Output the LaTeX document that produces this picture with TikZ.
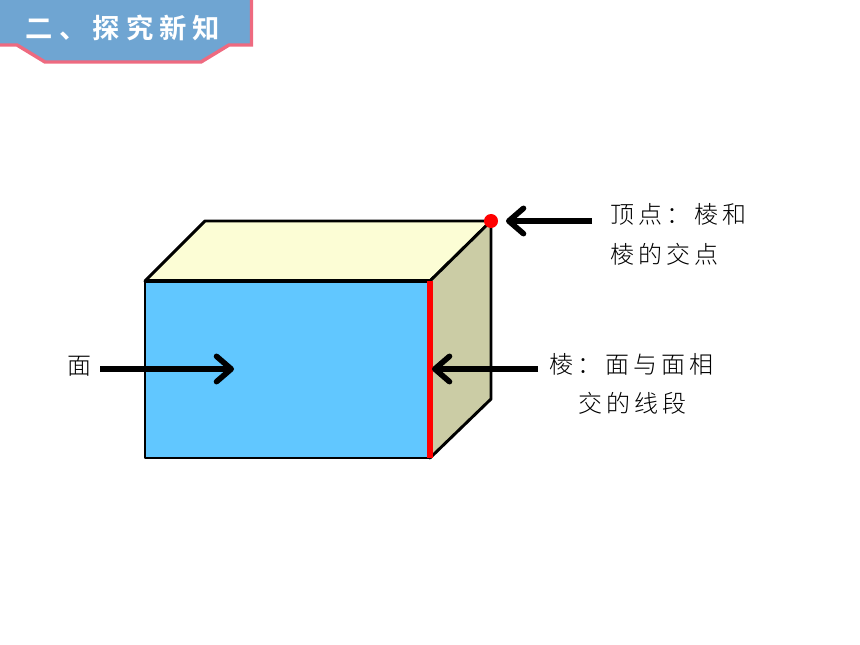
\documentclass[tikz,border=0pt]{standalone}
\usepackage{fontspec}
\usepackage{xcolor}
\usetikzlibrary{arrows.meta}
\newfontfamily\cjk[LetterSpace=17]{Noto Sans CJK SC Light}
\newfontfamily\cjkhead[LetterSpace=22]{Noto Sans CJK SC Bold}
\definecolor{headblue}{HTML}{6FA5D2}
\definecolor{headpink}{HTML}{EE6A80}
\definecolor{frontblue}{HTML}{61C7FF}
\definecolor{topyellow}{HTML}{FCFDD5}
\definecolor{sidekhaki}{HTML}{CBCCA5}
\tikzset{
	face/.style={draw=black, line width=2.2pt, line join=round},
	pointer/.style={draw=black, line width=4.2pt, -{Straight Barb[length=11pt, width=19pt, line width=4.2pt, round]}},
	note/.style={font=\cjk\fontsize{18}{30.5}\selectfont, align=left, inner sep=0pt, text=black},
}
\begin{document}
\begin{tikzpicture}[x=0.75pt, y=-0.75pt]
	\useasboundingbox (0, 0) rectangle (860, 645);
	% heading
	\draw [fill=headblue, draw=headpink, line width=2.6pt]
		(-5, 45) -- (17, 45) -- (45, 62) -- (201, 62) -- (229, 45) -- (251.5, 45) -- (251.5, -5) -- (-5, -5) -- cycle;
	\node (heading) [font=\cjkhead\fontsize{20.5}{20.5}\selectfont, text=white, inner sep=0pt] at (123, 28) {二、探究新知};
	% box
	\coordinate (fl) at (145, 281);
	\coordinate (fr) at (430, 281);
	\coordinate (br) at (430, 458);
	\coordinate (bl) at (145, 458);
	\coordinate (tl) at (205, 221);
	\coordinate (tr) at (491, 221);
	\coordinate (sb) at (491, 399);
	\draw [face, fill=topyellow] (fl) -- (tl) -- (tr) -- (fr) -- cycle;
	\draw [face, fill=sidekhaki] (fr) -- (tr) -- (sb) -- (br) -- cycle;
	\draw [face, fill=frontblue] (fl) -- (fr) -- (br) -- (bl) -- cycle;
	\draw [line width=2.8pt] (fl) -- (fr);
	\draw [red, line width=4pt] (fr) -- (br);
	\node (vertex) [circle, fill=red, inner sep=0pt, minimum size=10.5pt] at (tr) {};
	% labels
	\node (vertexnote) [note, anchor=north west] at (610, 203) {顶点：棱和\\棱的交点};
	\node (edgenote) [note, anchor=north west] at (549, 353) {棱：面与面相};
	\node (edgenotetwo) [note, anchor=north west] at (578, 392) {交的线段};
	\node (facenote) [note, anchor=north west] at (67, 356) {面};
	% arrows
	\coordinate (vertexfrom) at (592, 221);
	\coordinate (vertexto) at (506, 221);
	\coordinate (edgefrom) at (538, 369);
	\coordinate (edgeto) at (432, 369);
	\coordinate (facefrom) at (100, 369);
	\coordinate (faceto) at (234, 369);
	\draw [pointer] (vertexfrom) -- (vertexto);
	\draw [pointer] (edgefrom) -- (edgeto);
	\draw [pointer] (facefrom) -- (faceto);
\end{tikzpicture}
\end{document}
